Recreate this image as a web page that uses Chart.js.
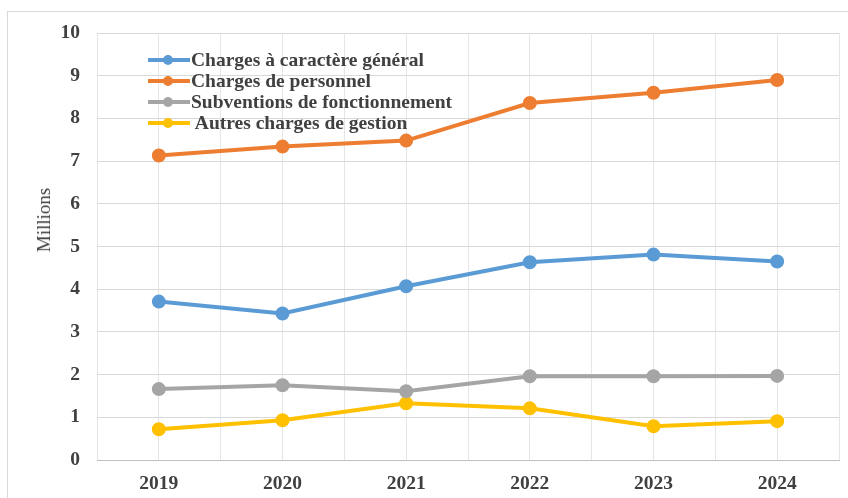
<!DOCTYPE html>
<html lang="fr">
<head>
    <meta charset="UTF-8">
    <title>Charges de fonctionnement</title>
    <script src="https://cdn.jsdelivr.net/npm/chart.js"></script>
    <style>
        body { margin: 0; background: #fff; width: 848px; height: 498px; overflow: hidden; font-family: "Liberation Serif", serif; }
        .frame { position: absolute; left: 7px; top: 11px; width: 845px; height: 492px; border: 1px solid #d9d9d9; box-sizing: border-box; }
        .chart-box { position: absolute; left: 7px; top: 11px; width: 841px; height: 487px; }
        /* y axis title, sits a bit above the middle of the plot like in the original */
        #ytitle { position: absolute; left: 44px; top: 220px; transform: translate(-50%, -50%) rotate(-90deg);
                  font-size: 19px; color: #404040; white-space: nowrap; }
        /* Legend sits inside the plot, top left */
        #legend { position: absolute; left: 148px; top: 50px; }
        .item { display: flex; align-items: center; height: 20.8px; font-weight: bold; font-size: 19.5px; color: #404040; white-space: nowrap; }
        .swatch { position: relative; width: 42px; height: 20px; margin-right: 1px; }
        .swatch .ln { position: absolute; left: 0; right: 0; top: 8px; height: 4px; }
        .swatch .dot { position: absolute; left: 15px; top: 5px; width: 10px; height: 10px; border-radius: 50%; }
    </style>
</head>
<body>
<div class="frame"></div>
<div class="chart-box"><canvas id="chart"></canvas></div>
<div id="ytitle">Millions</div>
<div id="legend"></div>

<script>
    const years = [2019, 2020, 2021, 2022, 2023, 2024];
    const yTicks = [0, 1, 2, 3, 4, 5, 6, 7, 8, 9, 10];

    const chargesGenerales = [3.71, 3.43, 4.07, 4.63, 4.81, 4.65];
    const chargesPersonnel = [7.13, 7.34, 7.48, 8.36, 8.60, 8.90];
    const subventions      = [1.66, 1.75, 1.61, 1.96, 1.96, 1.97];
    const autresCharges    = [0.72, 0.93, 1.33, 1.21, 0.79, 0.91];

    const seriesNames = ['Charges à caractère général', 'Charges de personnel',
                         'Subventions de fonctionnement', ' Autres charges de gestion'];
    const seriesColors = ['#5B9BD5', '#ED7D31', '#A5A5A5', '#FFC000'];
    const seriesData = [chargesGenerales, chargesPersonnel, subventions, autresCharges];

    const tickFont = { family: 'Liberation Serif', size: 19.5, weight: 'bold' };

    const datasets = seriesData.map((vals, i) => ({
        label: seriesNames[i],
        data: vals.map((v, j) => ({ x: years[j], y: v })),
        borderColor: seriesColors[i],
        backgroundColor: seriesColors[i],
        borderWidth: 4,
        pointRadius: 5,
        pointHoverRadius: 5,
        tension: 0
    }));

    new Chart(document.getElementById('chart'), {
        type: 'line',
        data: { datasets: datasets },
        options: {
            responsive: true,
            maintainAspectRatio: false,
            animation: false,
            layout: { padding: { top: 22, right: 6, left: 0, bottom: 0 } },
            plugins: { legend: { display: false }, tooltip: { enabled: false } },
            scales: {
                x: {
                    type: 'linear',
                    min: years[0] - 0.5,
                    max: years[years.length - 1] + 0.5,
                    ticks: {
                        stepSize: 0.5,
                        autoSkip: false,
                        maxRotation: 0,
                        color: '#404040',
                        font: tickFont,
                        padding: 12,
                        // only whole years get a label, half steps just give the grid line
                        callback: v => Number.isInteger(v) ? String(v) : ''
                    },
                    grid: { color: '#e6e6e6', drawTicks: false },
                    border: { color: '#bfbfbf', width: 1 },
                    afterFit: s => { s.height = 38; s.paddingLeft = 0; s.paddingRight = 0; }
                },
                y: {
                    min: 0,
                    max: 10,
                    afterBuildTicks: s => { s.ticks = yTicks.map(v => ({ value: v })); },
                    ticks: { color: '#404040', font: tickFont, padding: 17 },
                    grid: { color: '#d9d9d9', drawTicks: false },
                    border: { display: false },
                    // fixed width, and no extra space from the tick padding above/below
                    afterFit: s => { s.width = 90; s.paddingTop = 0; s.paddingBottom = 0; }
                }
            }
        }
    });

    // HTML legend built from the same series
    const legend = document.getElementById('legend');
    seriesNames.forEach((name, i) => {
        const row = document.createElement('div');
        row.className = 'item';
        row.innerHTML = '<div class="swatch"><div class="ln" style="background:' + seriesColors[i] +
            '"></div><div class="dot" style="background:' + seriesColors[i] + '"></div></div>';
        const txt = document.createElement('span');
        txt.textContent = name;
        txt.style.whiteSpace = 'pre';
        row.appendChild(txt);
        legend.appendChild(row);
    });
</script>
</body>
</html>
